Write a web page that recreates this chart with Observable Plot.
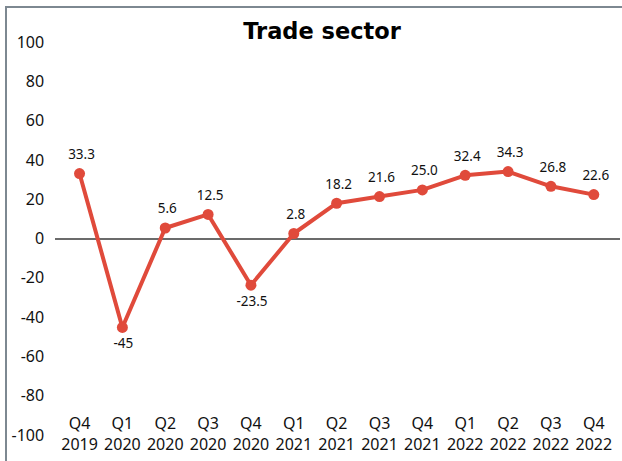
<!DOCTYPE html>
<html>
<head>
<meta charset="utf-8">
<script src="https://cdn.jsdelivr.net/npm/d3@7"></script>
<script src="https://cdn.jsdelivr.net/npm/@observablehq/plot@0.6"></script>
<style>
  html, body { margin: 0; padding: 0; background: #fff; }
  #wrap { position: relative; width: 622px; height: 461px; overflow: hidden; }
  #title { position: absolute; left: 0; width: 644px; top: 18px; text-align: center;
           font-family: "DejaVu Sans", sans-serif; font-weight: bold; font-size: 22.5px; color: #000; }
  #btop { position: absolute; left: 5px; top: 6px; width: 617px; height: 2px; background: #7d8891; }
  #bleft { position: absolute; left: 5px; top: 6px; width: 2px; height: 455px; background: #7d8891; }
  #chart { position: absolute; left: 0; top: 0; }
</style>
</head>
<body>
<div id="wrap">
  <div id="chart"></div>
  <div id="btop"></div>
  <div id="bleft"></div>
  <div id="title">Trade sector</div>
</div>
<script>
const quarters = ["Q4 2019","Q1 2020","Q2 2020","Q3 2020","Q4 2020","Q1 2021","Q2 2021","Q3 2021","Q4 2021","Q1 2022","Q2 2022","Q3 2022","Q4 2022"];
const values = [33.3, -45, 5.6, 12.5, -23.5, 2.8, 18.2, 21.6, 25.0, 32.4, 34.3, 26.8, 22.6];
const valueLabels = ["33.3","-45","5.6","12.5","-23.5","2.8","18.2","21.6","25.0","32.4","34.3","26.8","22.6"];
const yTicks = [-100, -80, -60, -40, -20, 0, 20, 40, 60, 80, 100];

const red = "#e04a3b";
const data = quarters.map((q, i) => ({q, v: values[i], label: valueLabels[i]}));

const chart = Plot.plot({
  width: 622,
  height: 461,
  marginTop: 42,
  marginBottom: 26,
  marginLeft: 57.6,
  marginRight: 7.3,
  style: {fontFamily: "'Noto Sans', sans-serif", background: "transparent", color: "#111"},
  x: {type: "point", domain: quarters, padding: 0.5, round: false, axis: null},
  y: {domain: [-100, 100]},
  marks: [
    Plot.axisY({ticks: yTicks, tickSize: 0, tickPadding: 14, fontSize: 16, tickFormat: d => String(d), label: null}),
    Plot.ruleY([0], {stroke: "#3a3a3a", strokeWidth: 1.5, insetLeft: -2.6, insetRight: -5.3}),
    Plot.line(data, {x: "q", y: "v", stroke: red, strokeWidth: 4}),
    Plot.dot(data, {x: "q", y: "v", r: 5.5, fill: red}),
    Plot.text(data.filter(d => d.v >= 0), {x: "q", y: "v", text: "label", dy: -19, dx: 2, fontSize: 13.5, fill: "#111"}),
    Plot.text(data.filter(d => d.v < 0), {x: "q", y: "v", text: "label", dy: 16, dx: 1, fontSize: 13.5, fill: "#111"}),
    Plot.text(quarters, {x: d => d, frameAnchor: "bottom", text: d => d.replace(" ", "\n"), lineAnchor: "middle", lineHeight: 1.3, fontSize: 16, dy: -3, fill: "#111"})
  ]
});
document.getElementById("chart").appendChild(chart);
</script>
</body>
</html>
